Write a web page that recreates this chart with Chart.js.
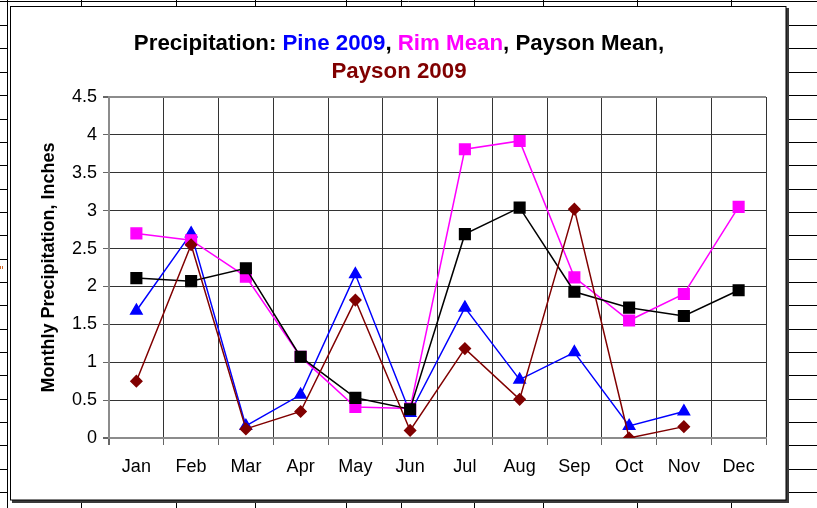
<!DOCTYPE html>
<html>
<head>
<meta charset="utf-8">
<script src="https://cdn.jsdelivr.net/npm/chart.js@4/dist/chart.umd.min.js"></script>
<style>
html,body{margin:0;padding:0;background:#fff;}
#wrap{position:relative;width:817px;height:508px;}
canvas{display:block;}
</style>
</head>
<body>
<div id="wrap"><canvas id="c" width="817" height="508"></canvas></div>
<script>
// ---- data ----
const months = ["Jan","Feb","Mar","Apr","May","Jun","Jul","Aug","Sep","Oct","Nov","Dec"];
const pine2009   = [1.68, 2.70, 0.16, 0.57, 2.16, 0.33, 1.72, 0.77, 1.13, 0.16, 0.35, null];
const rimMean    = [2.70, 2.61, 2.13, 1.07, 0.41, 0.39, 3.81, 3.92, 2.12, 1.55, 1.90, 3.05];
const paysonMean = [2.11, 2.07, 2.24, 1.07, 0.53, 0.38, 2.69, 3.04, 1.93, 1.72, 1.61, 1.95];
const payson2009 = [0.75, 2.55, 0.12, 0.35, 1.82, 0.10, 1.18, 0.51, 3.02, 0.00, 0.15, null];
const yTickValues = [0, 0.5, 1, 1.5, 2, 2.5, 3, 3.5, 4, 4.5];
const yTickLabels = ["0", "0.5", "1", "1.5", "2", "2.5", "3", "3.5", "4", "4.5"];

const titleLine1 = [
  ["Precipitation: ", "#000000"],
  ["Pine 2009", "#0000FF"],
  [", ", "#000000"],
  ["Rim Mean", "#FF00FF"],
  [", Payson Mean,", "#000000"]
];
const titleLine2 = [["Payson 2009", "#800000"]];
const yAxisTitle = "Monthly Precipitation, Inches";

// ---- background spreadsheet + frame ----
const sheetPlugin = {
  id: 'sheet',
  beforeDraw(chart) {
    const c = chart.ctx;
    c.save();
    c.fillStyle = '#fff';
    c.fillRect(0, 0, chart.width, chart.height);
    c.strokeStyle = '#000';
    c.lineWidth = 1;
    const ln = (x1, y1, x2, y2) => { c.beginPath(); c.moveTo(x1, y1); c.lineTo(x2, y2); c.stroke(); };
    ln(0, 1.5, 817, 1.5);
    ln(7.5, 0, 7.5, 508);
    const rows = [25,48,72,95,119,142,165,189,212,235,259,282,305,329,352,375,399,422,445,469,492];
    rows.forEach(y => { ln(0, y + 0.5, 7.5, y + 0.5); ln(788, y + 0.5, 817, y + 0.5); });
    const cols = [81,176,255,346,401,474,543,637,731];
    cols.forEach(x => { ln(x + 0.5, 0, x + 0.5, 7); ln(x + 0.5, 502, x + 0.5, 508); });
    // frame shadow
    c.fillStyle = '#3a3a3a';
    c.fillRect(12, 500, 777, 3);
    c.fillRect(786, 8, 3, 495);
    // frame
    c.fillStyle = '#fff';
    c.fillRect(11, 7, 775, 493);
    c.strokeStyle = '#000';
    c.strokeRect(10.5, 6.5, 775.5, 493.5);
    // small stray orange mark at left edge
    c.fillStyle = '#d06a2a';
    c.fillRect(0, 266, 1, 3);
    c.fillRect(2, 266, 1, 3);
    c.restore();
  },
  afterDraw(chart) {
    const c = chart.ctx;
    c.save();
    c.font = 'bold 22.3px "Liberation Sans", Arial, sans-serif';
    c.textBaseline = 'alphabetic';
    c.textAlign = 'left';
    const drawLine = (segs, cx, y) => {
      const total = segs.reduce((s, g) => s + c.measureText(g[0]).width, 0);
      let x = cx - total / 2;
      segs.forEach(g => { c.fillStyle = g[1]; c.fillText(g[0], x, y); x += c.measureText(g[0]).width; });
    };
    drawLine(titleLine1, 399, 50);
    drawLine(titleLine2, 399, 78);
    c.restore();
  }
};

const nLabels = months.length;
const tickFont = { family: '"Liberation Sans", Arial, sans-serif', size: 18 };

new Chart(document.getElementById('c'), {
  type: 'line',
  data: {
    labels: months,
    datasets: [
      { label: 'Pine 2009', data: pine2009, borderColor: '#0000FF', backgroundColor: '#0000FF',
        pointStyle: 'triangle', pointRadius: 6.5, borderWidth: 1.5, order: 4, spanGaps: false },
      { label: 'Rim Mean', data: rimMean, borderColor: '#FF00FF', backgroundColor: '#FF00FF',
        pointStyle: 'rect', pointRadius: 7.5, borderWidth: 1.5, order: 3 },
      { label: 'Payson Mean', data: paysonMean, borderColor: '#000000', backgroundColor: '#000000',
        pointStyle: 'rect', pointRadius: 7.5, borderWidth: 1.5, order: 2 },
      { label: 'Payson 2009', data: payson2009, borderColor: '#800000', backgroundColor: '#800000',
        pointStyle: 'rectRot', pointRadius: 5.5, borderWidth: 1.5, order: 1 }
    ]
  },
  options: {
    responsive: false,
    animation: false,
    devicePixelRatio: 1,
    layout: { padding: { top: 97, right: 51, bottom: 0, left: 0 } },
    elements: { line: { tension: 0 }, point: { borderWidth: 1, hoverRadius: 7 } },
    plugins: { legend: { display: false }, title: { display: false }, tooltip: { enabled: false } },
    scales: {
      x: {
        type: 'category',
        offset: true,
        grid: {
          offset: true,
          color: ctx => (ctx.index === 0 || ctx.index === nLabels) ? '#8c8c8c' : '#333333',
          lineWidth: ctx => (ctx.index === 0 || ctx.index === nLabels) ? 2 : 1,
          tickLength: 7,
          tickColor: '#666666'
        },
        border: { display: true, color: '#8c8c8c', width: 2 },
        ticks: { color: '#000', font: tickFont, padding: 11, maxRotation: 0, autoSkip: false },
        afterFit: s => { s.height = 70; }
      },
      y: {
        min: 0,
        max: 4.5,
        afterBuildTicks: s => { s.ticks = yTickValues.map(v => ({ value: v })); },
        grid: {
          color: ctx => (ctx.tick && (ctx.tick.value === 0 || ctx.tick.value === 4.5)) ? '#8c8c8c' : '#333333',
          lineWidth: ctx => (ctx.tick && (ctx.tick.value === 0 || ctx.tick.value === 4.5)) ? 2 : 1,
          tickLength: 6,
          tickColor: '#666666'
        },
        border: { display: true, color: '#8c8c8c', width: 2 },
        ticks: {
          color: '#000', font: tickFont, padding: 6,
          callback: (v) => { const i = yTickValues.indexOf(v); return i >= 0 ? yTickLabels[i] : ''; }
        },
        title: {
          display: true, text: yAxisTitle, color: '#000',
          font: { family: '"Liberation Sans", Arial, sans-serif', size: 18, weight: 'bold' },
          padding: { top: 38, bottom: 0 }
        },
        afterFit: s => { s.width = 109; }
      }
    }
  },
  plugins: [sheetPlugin]
});
</script>
</body>
</html>
